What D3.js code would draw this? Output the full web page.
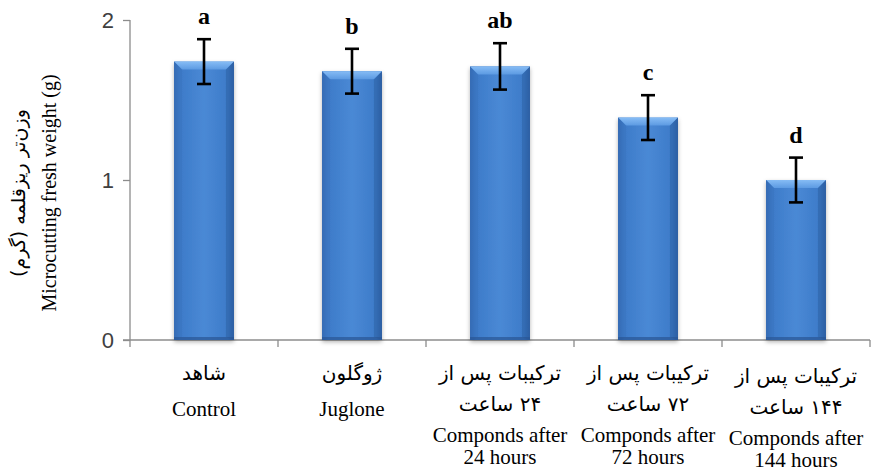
<!DOCTYPE html>
<html>
<head>
<meta charset="utf-8">
<script src="https://cdn.jsdelivr.net/npm/d3@7"></script>
<style>
  html, body { margin: 0; padding: 0; background: #fff; }
  svg { display: block; }
</style>
</head>
<body>
<svg id="chart" width="888" height="472"></svg>
<script>
// ---- data ----
const categories = ["control", "juglone", "c24", "c72", "c144"];
const labelsFa = [["شاهد"], ["ژوگلون"], ["ترکیبات پس از", "۲۴ ساعت"], ["ترکیبات پس از", "۷۲ ساعت"], ["ترکیبات پس از", "۱۴۴ ساعت"]];
const labelsEn = [["Control"], ["Juglone"], ["Componds after", "24 hours"], ["Componds after", "72 hours"], ["Componds after", "144 hours"]];
const means = [1.74, 1.68, 1.71, 1.39, 1.00];
const errors = [0.14, 0.14, 0.145, 0.14, 0.14];
const letters = ["a", "b", "ab", "c", "d"];
const yTicks = [0, 1, 2];
const yTitleFa = "وزن‌تر ریزقلمه (گرم)";
const yTitleEn = "Microcutting fresh weight (g)";

(function () {
const svg = d3.select("#chart");
const mLeft = 130, mRight = 870, mTop = 20, mBottom = 340;

const x = d3.scaleBand().domain(categories).range([mLeft, mRight])
  .paddingInner(0.595).paddingOuter(0.2975);
const y = d3.scaleLinear().domain([0, 2]).range([mBottom, mTop]);

const defs = svg.append("defs");
const g1 = defs.append("linearGradient").attr("id", "barGrad").attr("x1", 0).attr("x2", 1).attr("y1", 0).attr("y2", 0);
[[0, "#2d62aa"], [0.1, "#3d7bc9"], [0.5, "#4a89d5"], [0.9, "#3d7bc9"], [1, "#2d62aa"]]
  .forEach(([o, c]) => g1.append("stop").attr("offset", o).attr("stop-color", c));
const g2 = defs.append("linearGradient").attr("id", "topGrad").attr("x1", 0).attr("x2", 0).attr("y1", 0).attr("y2", 1);
[[0, "#86bcf5"], [1, "#5c9ae2"]].forEach(([o, c]) => g2.append("stop").attr("offset", o).attr("stop-color", c));
const f = defs.append("filter").attr("id", "shadow").attr("x", "-20%").attr("y", "-20%").attr("width", "140%").attr("height", "140%");
f.append("feDropShadow").attr("dx", 0).attr("dy", 2).attr("stdDeviation", 2).attr("flood-color", "#000").attr("flood-opacity", 0.3);

// axes
const axisColor = "#8c8c8c";
const yAxis = d3.axisLeft(y).tickValues(yTicks).tickSize(7).tickFormat(d3.format("d"));
const yg = svg.append("g").attr("transform", `translate(${mLeft},0)`).call(yAxis);
yg.select(".domain").attr("stroke", axisColor).attr("stroke-width", 1.3).attr("d", `M0,${mTop}V${mBottom}`);
yg.selectAll(".tick line").attr("stroke", axisColor).attr("stroke-width", 1.3);
yg.selectAll(".tick text").attr("x", -16).attr("dy", "0.36em")
  .attr("font-family", "'Liberation Sans', Arial, sans-serif").attr("font-size", 22).attr("fill", "#404040");

// x axis line and category boundary ticks
const step = x.step();
const bounds = d3.range(categories.length + 1).map(i => mLeft + i * step);
svg.append("line").attr("x1", mLeft - 7).attr("x2", mRight).attr("y1", y(0)).attr("y2", y(0))
  .attr("stroke", axisColor).attr("stroke-width", 1.3);

// bars
const bars = svg.append("g");
categories.forEach((c, i) => {
  const bx = x(c), bw = x.bandwidth(), by = y(means[i]), bh = y(0) - y(means[i]);
  const g = bars.append("g");
  g.append("rect").attr("x", bx).attr("y", by).attr("width", bw).attr("height", bh)
    .attr("fill", "url(#barGrad)").attr("filter", "url(#shadow)");
  const b = 8;
  g.append("polygon").attr("points", [[bx, by], [bx + bw, by], [bx + bw - b, by + b], [bx + b, by + b]].join(" "))
    .attr("fill", "url(#topGrad)");
  g.append("polygon").attr("points", [[bx, by], [bx + b, by + b], [bx + b, y(0) - 3], [bx, y(0)]].join(" "))
    .attr("fill", "#3a73bd").attr("opacity", 0.55);
  g.append("polygon").attr("points", [[bx + bw, by], [bx + bw - b, by + b], [bx + bw - b, y(0) - 3], [bx + bw, y(0)]].join(" "))
    .attr("fill", "#2a5a9c").attr("opacity", 0.45);
  g.append("rect").attr("x", bx).attr("y", y(0) - 3).attr("width", bw).attr("height", 3).attr("fill", "#2a5594").attr("opacity", 0.7);
});

// x ticks (drawn after bars)
svg.append("g").selectAll("line").data(bounds).join("line")
  .attr("x1", d => d).attr("x2", d => d).attr("y1", y(0)).attr("y2", y(0) + 7)
  .attr("stroke", axisColor).attr("stroke-width", 1.3);

// error bars
const eg = svg.append("g").attr("stroke", "#000").attr("stroke-width", 2.6);
categories.forEach((c, i) => {
  const cx = x(c) + x.bandwidth() / 2;
  const yt = y(means[i] + errors[i]), yb = y(means[i] - errors[i]);
  eg.append("line").attr("x1", cx).attr("x2", cx).attr("y1", yt).attr("y2", yb);
  eg.append("line").attr("x1", cx - 7).attr("x2", cx + 7).attr("y1", yt).attr("y2", yt);
  eg.append("line").attr("x1", cx - 7).attr("x2", cx + 7).attr("y1", yb).attr("y2", yb);
  svg.append("text").attr("x", cx).attr("y", yt - 15).attr("text-anchor", "middle")
    .attr("font-family", "'Liberation Serif', 'Times New Roman', serif").attr("font-weight", "bold")
    .attr("font-size", 24).attr("fill", "#000").text(letters[i]);
});

// x labels
const faFont = "'DejaVu Sans', sans-serif";
const enFont = "'Liberation Serif', 'Times New Roman', serif";
categories.forEach((c, i) => {
  const cx = x(c) + x.bandwidth() / 2;
  const off = i === 4 ? 3 : 0;
  const fa = labelsFa[i], en = labelsEn[i];
  fa.forEach((t, k) => {
    svg.append("text").attr("x", cx).attr("y", 380 + off + k * 31).attr("text-anchor", "middle")
      .attr("direction", "rtl").attr("font-family", faFont).attr("font-size", 20).attr("fill", "#000").text(t);
  });
  if (fa.length === 1) {
    svg.append("text").attr("x", cx).attr("y", 416).attr("text-anchor", "middle")
      .attr("font-family", enFont).attr("font-size", 21).attr("fill", "#000").text(en[0]);
  } else {
    en.forEach((t, k) => {
      svg.append("text").attr("x", cx).attr("y", 442 + off + k * 22).attr("text-anchor", "middle")
        .attr("font-family", enFont).attr("font-size", 21).attr("fill", "#000").text(t);
    });
  }
});

// y title
const ty = 193;
svg.append("text").attr("transform", `translate(25,${ty}) rotate(-90)`).attr("text-anchor", "middle")
  .attr("direction", "rtl").attr("font-family", faFont).attr("font-size", 19).attr("fill", "#000").text(yTitleFa);
svg.append("text").attr("transform", `translate(56,${ty}) rotate(-90)`).attr("text-anchor", "middle")
  .attr("font-family", enFont).attr("font-size", 20).attr("fill", "#000").text(yTitleEn);
})();
</script>
</body>
</html>
